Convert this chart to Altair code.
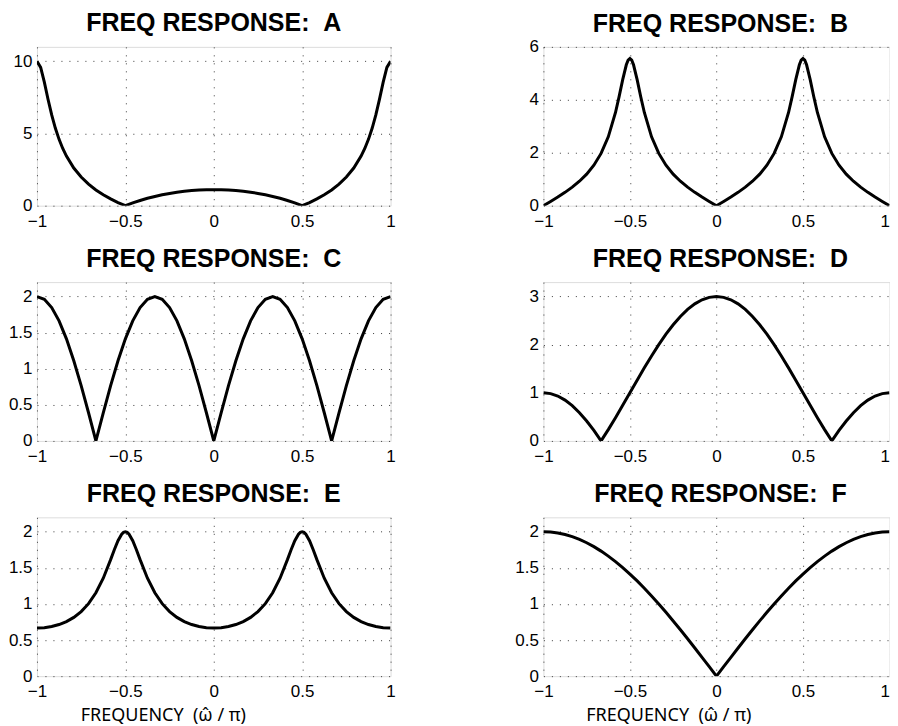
import altair as alt
import pandas as pd

FONT = "Liberation Sans"

# ---------------- data ----------------
f_grid = [-1.0, -0.9583, -0.9167, -0.875, -0.8333, -0.7917, -0.75, -0.7083, -0.6667, -0.625,
          -0.5833, -0.5417, -0.5, -0.4583, -0.4167, -0.375, -0.3333, -0.2917, -0.25, -0.2083,
          -0.1667, -0.125, -0.0833, -0.0417, 0.0, 0.0417, 0.0833, 0.125, 0.1667, 0.2083,
          0.25, 0.2917, 0.3333, 0.375, 0.4167, 0.4583, 0.5, 0.5417, 0.5833, 0.625,
          0.6667, 0.7083, 0.75, 0.7917, 0.8333, 0.875, 0.9167, 0.9583, 1.0]

f_A = [-1.0, -0.9792, -0.9583, -0.9375, -0.9167, -0.8958, -0.875, -0.8542, -0.8333, -0.7917,
       -0.75, -0.7083, -0.6667, -0.625, -0.5833, -0.5417, -0.5, -0.4583, -0.4167, -0.375,
       -0.3333, -0.2917, -0.25, -0.2083, -0.1667, -0.125, -0.0833, -0.0417, 0.0,
       0.0417, 0.0833, 0.125, 0.1667, 0.2083, 0.25, 0.2917, 0.3333, 0.375, 0.4167,
       0.4583, 0.5, 0.5417, 0.5833, 0.625, 0.6667, 0.7083, 0.75, 0.7917, 0.8333,
       0.8542, 0.875, 0.8958, 0.9167, 0.9375, 0.9583, 0.9792, 1.0]
mag_A = [10.0, 9.577, 8.557, 7.375, 6.284, 5.358, 4.594, 3.962, 3.434, 2.606,
         1.983, 1.492, 1.091, 0.755, 0.468, 0.218, 0.0, 0.192, 0.361, 0.510,
         0.640, 0.753, 0.850, 0.930, 0.996, 1.046, 1.082, 1.104, 1.111,
         1.104, 1.082, 1.046, 0.996, 0.930, 0.850, 0.753, 0.640, 0.510, 0.361,
         0.192, 0.0, 0.218, 0.468, 0.755, 1.091, 1.492, 1.983, 2.606, 3.434,
         3.962, 4.594, 5.358, 6.284, 7.375, 8.557, 9.577, 10.0]

f_BE = [-1.0, -0.9583, -0.9167, -0.875, -0.8333, -0.7917, -0.75, -0.7083, -0.6667, -0.625,
        -0.5833, -0.5625, -0.5417, -0.5208, -0.5104, -0.5, -0.4896, -0.4792, -0.4583, -0.4375,
        -0.4167, -0.375, -0.3333, -0.2917, -0.25, -0.2083, -0.1667, -0.125, -0.0833, -0.0417,
        0.0,
        0.0417, 0.0833, 0.125, 0.1667, 0.2083, 0.25, 0.2917, 0.3333, 0.375, 0.4167,
        0.4375, 0.4583, 0.4792, 0.4896, 0.5, 0.5104, 0.5208, 0.5417, 0.5625, 0.5833,
        0.625, 0.6667, 0.7083, 0.75, 0.7917, 0.8333, 0.875, 0.9167, 0.9583, 1.0]
mag_B = [0.0, 0.161, 0.326, 0.503, 0.699, 0.923, 1.191, 1.528, 1.974, 2.602,
         3.521, 4.117, 4.764, 5.323, 5.495, 5.556, 5.495, 5.323, 4.764, 4.117,
         3.521, 2.602, 1.974, 1.528, 1.191, 0.923, 0.699, 0.503, 0.326, 0.161,
         0.0,
         0.161, 0.326, 0.503, 0.699, 0.923, 1.191, 1.528, 1.974, 2.602, 3.521,
         4.117, 4.764, 5.323, 5.495, 5.556, 5.495, 5.323, 4.764, 4.117, 3.521,
         2.602, 1.974, 1.528, 1.191, 0.923, 0.699, 0.503, 0.326, 0.161, 0.0]
mag_E = [0.667, 0.672, 0.687, 0.715, 0.756, 0.814, 0.894, 1.004, 1.155, 1.357,
         1.614, 1.751, 1.876, 1.967, 1.992, 2.0, 1.992, 1.967, 1.876, 1.751,
         1.614, 1.357, 1.155, 1.004, 0.894, 0.814, 0.756, 0.715, 0.687, 0.672,
         0.667,
         0.672, 0.687, 0.715, 0.756, 0.814, 0.894, 1.004, 1.155, 1.357, 1.614,
         1.751, 1.876, 1.967, 1.992, 2.0, 1.992, 1.967, 1.876, 1.751, 1.614,
         1.357, 1.155, 1.004, 0.894, 0.814, 0.756, 0.715, 0.687, 0.672, 0.667]

mag_C = [2.0, 1.962, 1.848, 1.663, 1.414, 1.111, 0.765, 0.390, 0.0, 0.390,
         0.765, 1.111, 1.414, 1.663, 1.848, 1.962, 2.0, 1.962, 1.848, 1.663,
         1.414, 1.111, 0.765, 0.390, 0.0, 0.390, 0.765, 1.111, 1.414, 1.663,
         1.848, 1.962, 2.0, 1.962, 1.848, 1.663, 1.414, 1.111, 0.765, 0.390,
         0.0, 0.390, 0.765, 1.111, 1.414, 1.663, 1.848, 1.962, 2.0]
mag_D = [1.0, 0.983, 0.932, 0.848, 0.732, 0.587, 0.414, 0.218, 0.0, 0.235,
         0.482, 0.739, 1.0, 1.261, 1.518, 1.765, 2.0, 2.218, 2.414, 2.587,
         2.732, 2.848, 2.932, 2.983, 3.0, 2.983, 2.932, 2.848, 2.732, 2.587,
         2.414, 2.218, 2.0, 1.765, 1.518, 1.261, 1.0, 0.739, 0.482, 0.235,
         0.0, 0.218, 0.414, 0.587, 0.732, 0.848, 0.932, 0.983, 1.0]
mag_F = [2.0, 1.996, 1.983, 1.962, 1.932, 1.894, 1.848, 1.794, 1.732, 1.663,
         1.587, 1.504, 1.414, 1.319, 1.218, 1.111, 1.0, 0.885, 0.765, 0.643,
         0.518, 0.390, 0.261, 0.131, 0.0, 0.131, 0.261, 0.390, 0.518, 0.643,
         0.765, 0.885, 1.0, 1.111, 1.218, 1.319, 1.414, 1.504, 1.587, 1.663,
         1.732, 1.794, 1.848, 1.894, 1.932, 1.962, 1.983, 1.996, 2.0]

x_ticks = [-1, -0.5, 0, 0.5, 1]
letters = ["A", "B", "C", "D", "E", "F"]
y_max = [11, 6, 2.2, 3.3, 2.2, 2.2]
y_ticks = [[0, 5, 10], [0, 2, 4, 6], [0, 0.5, 1, 1.5, 2], [0, 1, 2, 3],
           [0, 0.5, 1, 1.5, 2], [0, 0.5, 1, 1.5, 2]]
series = [(f_A, mag_A), (f_BE, mag_B), (f_grid, mag_C), (f_grid, mag_D),
          (f_BE, mag_E), (f_grid, mag_F)]
title_prefix = "FREQ RESPONSE:\u00a0\u00a0"
x_title = "FREQUENCY\u00a0\u00a0(\u03c9\u0302 / \u03c0)"

W_LEFT, W_RIGHT, H = 354, 346.5, 159
TITLE_OFFSET = [-9.5, -19.5, -9.5, -9.5, -9.5, -9.5]


def panel(i):
    f, mag = series[i]
    df = pd.DataFrame({"f": f, "mag": mag})
    bottom = i >= 4
    right = i % 2 == 1
    width = W_RIGHT if right else W_LEFT
    common = dict(
        grid=True, gridDash=[1, 7], gridColor="#3a3a3a", gridWidth=1,
        domain=False, ticks=False, labelFont=FONT, labelFontSize=17,
        labelColor="black", labelFlush=False, labelOverlap=False, format="~r",
    )
    xlab = "datum.value < 0 ? datum.label + '\u00a0\u00a0' : datum.label"
    x_extra = {}
    if right:
        x_extra["labelAlign"] = {"condition": {"test": "datum.value == 1", "value": "right"},
                                 "value": "center"}
    if bottom:
        x_axis = alt.Axis(
            values=x_ticks, labelPadding=7.5, labelExpr=xlab,
            title=x_title, titleFont="Noto Sans", titleFontSize=18, titleFontWeight="normal",
            titleColor="black", titleX=125 if right else 126, titleY=44.5,
            titleAlign="center", titleBaseline="alphabetic", **x_extra, **common)
    else:
        x_axis = alt.Axis(values=x_ticks, labelPadding=7.5, labelExpr=xlab,
                          title=None, **x_extra, **common)
    y_axis = alt.Axis(values=y_ticks[i], labelPadding=5, title=None, **common)
    return (
        alt.Chart(
            df,
            title=alt.TitleParams(
                text=title_prefix + letters[i], font=FONT, fontSize=25,
                fontWeight="bold", color="black", anchor="middle", frame="group",
                baseline="alphabetic", offset=TITLE_OFFSET[i], dx=4 if right else 0,
            ),
        )
        .mark_line(color="black", strokeWidth=3, clip=True)
        .encode(
            x=alt.X("f:Q", scale=alt.Scale(domain=[-1, 1], nice=False, zero=False), axis=x_axis),
            y=alt.Y("mag:Q", scale=alt.Scale(domain=[0, y_max[i]], nice=False), axis=y_axis),
        )
        .properties(width=width, height=H)
    )


chart = (
    alt.concat(*[panel(i) for i in range(6)], columns=2,
               spacing={"row": 76.5, "column": 153}, bounds="flush")
    .properties(padding={"left": -1, "top": 2.5, "right": 0, "bottom": 0})
    .configure_view(stroke="black", strokeWidth=1)
    .configure(background="white")
)

chart.save("out.html", embed_options={"renderer": "svg", "actions": False})
